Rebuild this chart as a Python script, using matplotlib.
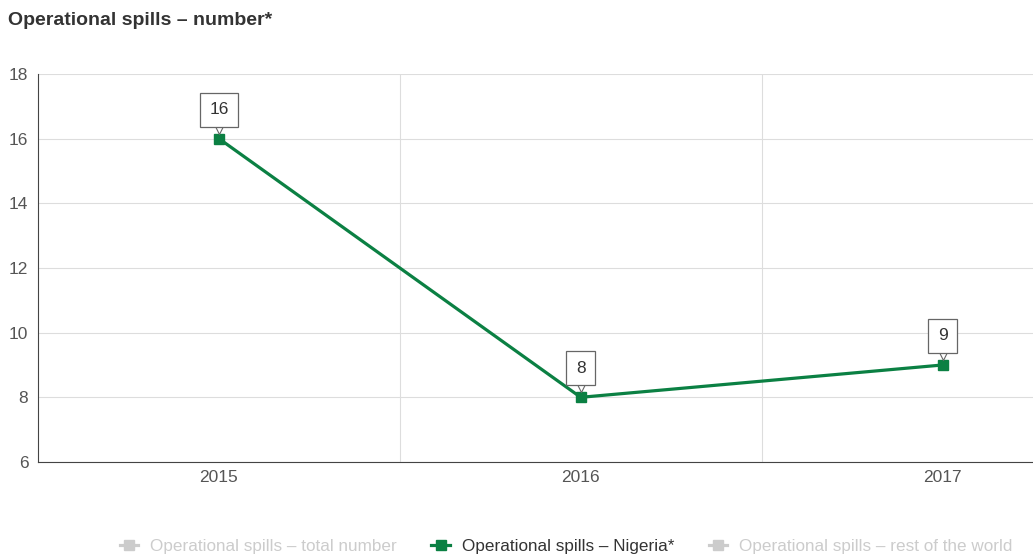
import numpy as np
import matplotlib.pyplot as plt
from matplotlib.lines import Line2D
from matplotlib.transforms import offset_copy

plt.rcParams['font.family'] = ['Liberation Sans', 'DejaVu Sans']

years = ["2015", "2016", "2017"]
nigeria = [16, 8, 9]
legend_labels = ["Operational spills – total number",
                 "Operational spills – Nigeria*",
                 "Operational spills – rest of the world"]
legend_active = [False, True, False]

green = "#0b8043"
grey_txt = "#555555"

fig = plt.figure(figsize=(10.33, 5.6), dpi=100)
ax = fig.add_axes([0.0368, 0.175, 0.9632, 0.693])

x = np.arange(len(years))
ax.plot(x, nigeria, color=green, linewidth=2.3, marker="s", markersize=7,
        zorder=3, clip_on=False)

# callout labels with a little pointer under each box
ptr = offset_copy(ax.transData, fig=fig, x=0, y=6.5, units="points")
ax.plot(x, nigeria, linestyle="none", marker="v", markersize=5.5,
        markerfacecolor="white", markeredgecolor="#666666", markeredgewidth=0.8,
        transform=ptr, zorder=4)
for xi, v in zip(x, nigeria):
    ax.annotate(str(v), (xi, v), xytext=(0, 15.5), textcoords="offset points",
                ha="center", va="bottom", fontsize=12.5, color="#333333",
                bbox=dict(boxstyle="square,pad=0.55", fc="white", ec="#666666", lw=0.9),
                zorder=5)

ax.set_xlim(-0.5, 2.25)
ax.set_ylim(6, 18)
ax.set_yticks(range(6, 19, 2))
ax.set_xticks(x)
ax.set_xticklabels(years)

ax.grid(axis="y", color="#dddddd", linewidth=0.8)
for b in [0.5, 1.5]:
    ax.axvline(b, color="#dddddd", linewidth=0.8, zorder=0)
ax.set_axisbelow(True)

for s in ["top", "right"]:
    ax.spines[s].set_visible(False)
ax.spines["left"].set_color("#444444")
ax.spines["bottom"].set_color("#444444")
ax.tick_params(axis="both", length=0, labelsize=12.5, colors=grey_txt, pad=6)
ax.tick_params(axis="y", pad=7)

fig.text(0.008, 0.964, "Operational spills – number*", fontsize=14,
         fontweight="bold", color="#333333", ha="left", va="center")

handles = []
for lab, act in zip(legend_labels, legend_active):
    c = green if act else "#cccccc"
    handles.append(Line2D([0], [0], color=c, marker="s", markersize=7,
                          linewidth=2.3, label=lab))
leg = fig.legend(handles=handles, loc="center", bbox_to_anchor=(0.548, 0.024),
                 ncol=3, frameon=False, fontsize=12.3, handlelength=1.1,
                 columnspacing=2.0, handletextpad=0.7)
for t, act in zip(leg.get_texts(), legend_active):
    t.set_color("#333333" if act else "#cccccc")

fig.savefig("out.png", dpi=100)
